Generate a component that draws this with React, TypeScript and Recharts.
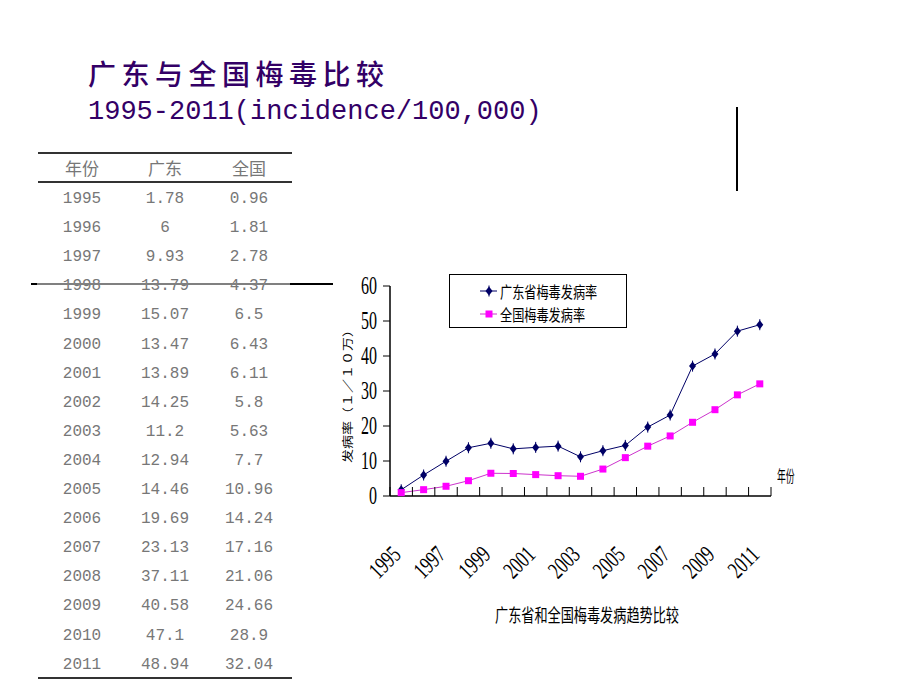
import React from 'react';
import { LineChart, Line, XAxis, YAxis, Legend } from 'recharts';

const years = [1995, 1996, 1997, 1998, 1999, 2000, 2001, 2002, 2003, 2004, 2005, 2006, 2007, 2008, 2009, 2010, 2011];
const guangdong = [1.78, 6, 9.93, 13.79, 15.07, 13.47, 13.89, 14.25, 11.2, 12.94, 14.46, 19.69, 23.13, 37.11, 40.58, 47.1, 48.94];
const national = [0.96, 1.81, 2.78, 4.37, 6.5, 6.43, 6.11, 5.8, 5.63, 7.7, 10.96, 14.24, 17.16, 21.06, 24.66, 28.9, 32.04];
// table shows the raw strings as printed
const gdText = ['1.78', '6', '9.93', '13.79', '15.07', '13.47', '13.89', '14.25', '11.2', '12.94', '14.46', '19.69', '23.13', '37.11', '40.58', '47.1', '48.94'];
const qgText = ['0.96', '1.81', '2.78', '4.37', '6.5', '6.43', '6.11', '5.8', '5.63', '7.7', '10.96', '14.24', '17.16', '21.06', '24.66', '28.9', '32.04'];
const yTicks = [0, 10, 20, 30, 40, 50, 60];
const labelYears = [1995, 1997, 1999, 2001, 2003, 2005, 2007, 2009, 2011];

const seriesNames = { gd: '广东省梅毒发病率', qg: '全国梅毒发病率' };

const data = years.map((year, i) => ({ year, gd: guangdong[i], qg: national[i] }));
// tick marks sit between categories, labels on every other year
const xTicks = [years[0] - 0.5, ...years.map((y) => y + 0.5), ...labelYears].sort((a, b) => a - b);

const NAVY = '#000066';
const MAGENTA = '#ff00ff';
const PURPLE = '#330066';
const GRAY = '#777';

const Diamond = (props: any) => {
  const { cx, cy } = props;
  if (cx == null || cy == null) return null;
  return (
    <g>
      <polygon points={`${cx},${cy - 4.5} ${cx + 3.5},${cy} ${cx},${cy + 4.5} ${cx - 3.5},${cy}`} fill={NAVY} />
      <line x1={cx} y1={cy - 5.5} x2={cx} y2={cy + 5.5} stroke={NAVY} strokeWidth={1} />
    </g>
  );
};

const Square = (props: any) => {
  const { cx, cy } = props;
  if (cx == null || cy == null) return null;
  return <rect x={cx - 3.5} y={cy - 3.5} width={7} height={7} fill={MAGENTA} />;
};

const XTick = (props: any) => {
  const { x, y, payload } = props;
  const v = payload.value;
  if (v % 1 !== 0) {
    return <line x1={x} y1={y} x2={x} y2={y - 9} stroke="#000" strokeWidth={1} />;
  }
  return (
    <text
      transform={`translate(${x + 1},${y + 60}) rotate(-45) scale(0.7,1)`}
      textAnchor="end"
      fontSize={24}
      fontFamily="'Liberation Serif', serif"
      fill="#000"
    >
      {v}
    </text>
  );
};

const YTick = (props: any) => {
  const { x, y, payload } = props;
  return (
    <text
      transform={`translate(${x},${y}) scale(0.64,1)`}
      textAnchor="end"
      dominantBaseline="central"
      fontSize={25}
      fontFamily="'Liberation Serif', serif"
      fill="#000"
    >
      {payload.value}
    </text>
  );
};

const YLabel = (props: any) => {
  const { viewBox } = props;
  const cx = viewBox.x + 17;
  const cy = viewBox.y + viewBox.height / 2 + 2;
  return (
    <text
      transform={`translate(${cx},${cy}) rotate(-90) scale(1,0.8)`}
      textAnchor="middle"
      dominantBaseline="central"
      fontSize={14}
      fontFamily="'Noto Sans CJK SC', sans-serif"
      fill="#000"
    >
      发病率（１／１０万）
    </text>
  );
};

const LegendBox = () => (
  <svg width={178} height={54} style={{ display: 'block' }}>
    <rect x={0.5} y={0.5} width={177} height={53} fill="#fff" stroke="#000" strokeWidth={1} />
    <line x1={31} y1={17} x2={48} y2={17} stroke={NAVY} />
    <Diamond cx={40} cy={17} />
    <text transform="translate(51,17) scale(0.76,1)" dominantBaseline="central" fontSize={16} fontFamily="'Noto Sans CJK SC', sans-serif">{seriesNames.gd}</text>
    <line x1={31} y1={40} x2={48} y2={40} stroke="#cc33cc" />
    <Square cx={40} cy={40} />
    <text transform="translate(51,40) scale(0.76,1)" dominantBaseline="central" fontSize={16} fontFamily="'Noto Sans CJK SC', sans-serif">{seriesNames.qg}</text>
  </svg>
);

const abs = (left: number, top: number, extra: React.CSSProperties = {}): React.CSSProperties => ({ position: 'absolute', left, top, ...extra });

const App = () => {
  const rowTop = (i: number) => 199 + i * 29.1 - 10;
  const cell = (center: number, top: number, text: string, cjk = false) => (
    <div
      key={`${center}-${top}-${text}`}
      style={abs(center - 45, top, {
        width: 90,
        height: 20,
        lineHeight: '20px',
        textAlign: 'center',
        color: GRAY,
        fontSize: cjk ? 17 : 16,
        fontFamily: cjk ? "'Noto Sans CJK SC', sans-serif" : "'Liberation Mono', monospace",
      })}
    >
      {text}
    </div>
  );

  return (
    <div style={{ position: 'absolute', left: 0, top: 0, width: 920, height: 690, background: '#fff', overflow: 'hidden' }}>
      {/* title */}
      <div style={abs(88, 58, { fontSize: 28, lineHeight: '30px', letterSpacing: 5.5, color: PURPLE, fontWeight: 500, fontFamily: "'Noto Sans CJK SC', sans-serif", whiteSpace: 'nowrap' })}>
        广东与全国梅毒比较
      </div>
      <div style={abs(88, 97, { fontSize: 27, lineHeight: '30px', color: PURPLE, fontFamily: "'Liberation Mono', monospace", whiteSpace: 'nowrap' })}>
        1995-2011(incidence/100,000)
      </div>

      {/* table */}
      <div style={abs(38, 152, { width: 254, height: 1.5, background: '#333' })} />
      <div style={abs(38, 181, { width: 254, height: 1.5, background: '#333' })} />
      <div style={abs(38, 677, { width: 254, height: 1.5, background: '#333' })} />
      {cell(82, 158, '年份', true)}
      {cell(165, 158, '广东', true)}
      {cell(249, 158, '全国', true)}
      {years.map((y, i) => [
        cell(82, rowTop(i), String(y)),
        cell(165, rowTop(i), gdText[i]),
        cell(249, rowTop(i), qgText[i]),
      ])}
      <div style={abs(31, 283, { width: 6, height: 1.5, background: '#000' })} />
      <div style={abs(37, 283, { width: 253, height: 1.5, background: '#808080' })} />
      <div style={abs(290, 283, { width: 43, height: 1.5, background: '#000' })} />

      {/* vertical rule */}
      <div style={abs(736, 107, { width: 2, height: 84, background: '#000' })} />

      {/* chart */}
      <div style={abs(330, 260)}>
        <LineChart width={480} height={400} data={data} margin={{ top: 26, right: 39, left: 0, bottom: 134 }}>
          <XAxis
            dataKey="year"
            type="number"
            domain={[years[0] - 0.5, years[years.length - 1] + 0.5]}
            ticks={xTicks}
            interval={0}
            tickLine={false}
            tickSize={0}
            tickMargin={0}
            tick={<XTick />}
            axisLine={{ stroke: '#000', strokeWidth: 1.5 }}
            height={30}
          />
          <YAxis
            domain={[0, 60]}
            ticks={yTicks}
            width={60}
            tickSize={7}
            tickMargin={6}
            tick={<YTick />}
            tickLine={{ stroke: '#000' }}
            axisLine={{ stroke: '#000', strokeWidth: 1.5 }}
            label={<YLabel />}
          />
          <Legend
            layout="horizontal"
            verticalAlign="middle"
            align="center"
            wrapperStyle={{ left: 119, top: 14, width: 178, height: 54 }}
            content={() => <LegendBox />}
          />
          <Line type="linear" dataKey="gd" name={seriesNames.gd} stroke={NAVY} strokeWidth={1} dot={<Diamond />} isAnimationActive={false} />
          <Line type="linear" dataKey="qg" name={seriesNames.qg} stroke="#cc33cc" strokeWidth={1} dot={<Square />} isAnimationActive={false} />
        </LineChart>
      </div>

      <div style={abs(777, 466, { fontSize: 16, lineHeight: '18px', fontFamily: "'Noto Sans CJK SC', sans-serif", transform: 'scaleX(0.55)', transformOrigin: 'left top', whiteSpace: 'nowrap' })}>
        年份
      </div>
      <div style={abs(495, 604, { fontSize: 18, lineHeight: '20px', fontFamily: "'Noto Sans CJK SC', sans-serif", transform: 'scaleX(0.73)', transformOrigin: 'left top', whiteSpace: 'nowrap' })}>
        广东省和全国梅毒发病趋势比较
      </div>
    </div>
  );
};

export default App;
